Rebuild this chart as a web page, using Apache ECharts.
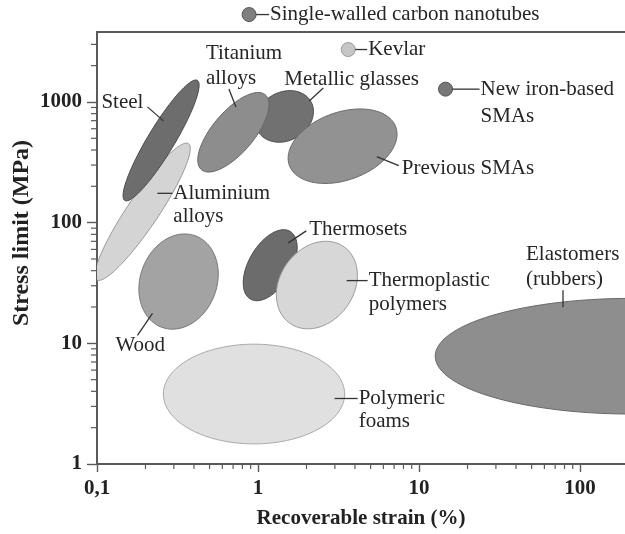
<!DOCTYPE html>
<html>
<head>
<meta charset="utf-8">
<script src="https://cdn.jsdelivr.net/npm/echarts@6/dist/echarts.min.js"></script>
<style>
  html, body { margin: 0; padding: 0; background: #fff; }
  #chart { width: 625px; height: 534px; }
</style>
</head>
<body>
<div id="chart"></div>
<script>
// material fields: centre and the end of one semi-axis (strain %, stress MPa),
// plus minor/major ratio of the ellipse
const materials = ['Aluminium alloys', 'Steel', 'Metallic glasses', 'Titanium alloys', 'Previous SMAs',
  'Wood', 'Thermosets', 'Thermoplastic polymers', 'Polymeric foams', 'Elastomers (rubbers)'];
const centreStrain = [0.192, 0.25, 1.46, 0.703, 3.35, 0.321, 1.19, 2.32, 0.944, 208];
const centreStress = [123, 480, 759, 561, 430, 32.5, 44.4, 30.4, 3.8, 7.82];
const axisEndStrain = [0.37, 0.42, 2.13, 1.11, 7.17, 0.408, 1.58, 3.42, 3.45, 12.6];
const axisEndStress = [451, 1510, 1007, 1146, 620, 77.8, 84.7, 63.0, 3.8, 7.82];
const axisRatio = [0.19, 0.19, 0.8, 0.42, 0.6, 0.786, 0.54, 0.787, 0.55, 0.295];

// single materials shown as dots
const pointNames = ['Single-walled carbon nanotubes', 'Kevlar', 'New iron-based SMAs'];
const pointStrain = [0.88, 3.63, 14.6];
const pointStress = [5300, 2720, 1277];

// annotation anchors (where each leader line touches its mark)
const labelText = ['Steel', 'Titanium\nalloys', 'Metallic glasses', 'Previous SMAs', 'Aluminium\nalloys',
  'Wood', 'Thermosets', 'Thermoplastic\npolymers', 'Elastomers\n(rubbers)', 'Polymeric\nfoams',
  'Single-walled carbon nanotubes', 'Kevlar', 'New iron-based\nSMAs'];
const labelStrain = [0.2585, 0.729, 2.08, 5.46, 0.237, 0.221, 1.54, 3.55, 78.3, 2.99, 0.88, 3.63, 14.6];
const labelStress = [697, 908, 1017, 352, 175, 17.7, 68, 33.1, 19.9, 3.49, 5300, 2720, 1277];

// axis ticks
const xTicks = [0.1, 1, 10, 100];
const yTicks = [1, 10, 100, 1000];
const xMinorTicks = [0.2, 0.3, 0.4, 0.5, 0.6, 0.7, 0.8, 0.9, 2, 3, 4, 5, 6, 7, 8, 9, 20, 30, 40, 50, 60, 70, 80, 90];
const yMinorTicks = [2, 3, 4, 5, 6, 7, 8, 9, 20, 30, 40, 50, 60, 70, 80, 90, 200, 300, 400, 500, 600, 700, 800, 900, 2000, 3000];

// styles
const fills = ['#d4d4d4', '#6d6d6d', '#717171', '#8d8d8d', '#929292', '#a3a3a3', '#6c6c6c', '#d7d7d7', '#e0e0e0', '#8e8e8e'];
const strokes = ['#999', '#4a4a4a', '#4d4d4d', '#666', '#6a6a6a', '#777', '#4a4a4a', '#999', '#aaa', '#6a6a6a'];
const pointFills = ['#7f7f7f', '#c6c6c6', '#777777'];
const pointStrokes = ['#555', '#999', '#555'];
// [tipDx, tipDy, tailDx, tailDy, textDx, textDy(first line centre), align, lineHeight]
const labelLayout = [
  [0, 0, -16, -14, -20, -18, 'right', 24],
  [0, 0, -7, -18, -30, -54, 'left', 25],
  [0, 0, 14, -13, -25, -22, 'left', 24],
  [0, 0, 22, 9, 25, 12, 'left', 24],
  [0, 0, 15, 0, 16, 0, 'left', 23],
  [0, 0, -15, 22, -37, 32, 'left', 24],
  [0, 0, 18, -12, 21, -13, 'left', 24],
  [0, 0, 21, 0, 22, 0, 'left', 24],
  [0, 0, 0, -17, -37, -53, 'left', 25],
  [0, 0, 23, 0, 24, 0, 'left', 23],
  [7, 0, 20, 0, 21, 0, 'left', 24],
  [7, 0, 19, 0, 20, 0, 'left', 24],
  [7, 0, 34, 0, 35, 0, 'left', 27]
];

const serif = '"Liberation Serif", "Times New Roman", serif';
const axisColor = '#5a5a5a';
const xMin = 0.1, xMax = 190, yMin = 1, yMax = 3800;

const chart = echarts.init(document.getElementById('chart'));

function renderEllipse(params, api) {
  const c = api.coord([api.value(0), api.value(1)]);
  const e = api.coord([api.value(2), api.value(3)]);
  const r = api.value(4);
  const ax = e[0] - c[0], ay = e[1] - c[1];
  const bx = -ay * r, by = ax * r;
  const pts = [];
  for (let i = 0; i < 120; i++) {
    const t = (i / 120) * Math.PI * 2;
    pts.push([c[0] + Math.cos(t) * ax + Math.sin(t) * bx, c[1] + Math.cos(t) * ay + Math.sin(t) * by]);
  }
  return {
    type: 'polygon',
    shape: { points: pts },
    style: { fill: fills[params.dataIndex], stroke: strokes[params.dataIndex], lineWidth: 1 }
  };
}

function renderPoint(params, api) {
  const p = api.coord([api.value(0), api.value(1)]);
  return {
    type: 'circle',
    shape: { cx: p[0], cy: p[1], r: 7 },
    style: { fill: pointFills[params.dataIndex], stroke: pointStrokes[params.dataIndex], lineWidth: 1 }
  };
}

function renderLabel(params, api) {
  const p = api.coord([api.value(0), api.value(1)]);
  const L = labelLayout[params.dataIndex];
  return {
    type: 'group',
    children: [
      {
        type: 'line',
        shape: { x1: p[0] + L[0], y1: p[1] + L[1], x2: p[0] + L[2], y2: p[1] + L[3] },
        style: { stroke: '#333', lineWidth: 1.3 }
      },
      {
        type: 'text',
        style: {
          text: labelText[params.dataIndex],
          x: p[0] + L[4],
          y: p[1] + L[5] - L[7] / 2,
          align: L[6],
          verticalAlign: 'top',
          lineHeight: L[7],
          font: '21px ' + serif,
          fill: '#262626'
        }
      }
    ]
  };
}

function renderXMinor(params, api) {
  const p = api.coord([api.value(0), yMin]);
  return { type: 'line', shape: { x1: p[0], y1: p[1], x2: p[0], y2: p[1] + 5 }, style: { stroke: axisColor, lineWidth: 1.2 } };
}

function renderYMinor(params, api) {
  const p = api.coord([xMin, api.value(1)]);
  return { type: 'line', shape: { x1: p[0], y1: p[1], x2: p[0] - 6, y2: p[1] }, style: { stroke: axisColor, lineWidth: 1.2 } };
}

const labelFont = { fontFamily: serif, fontWeight: 'bold', fontSize: 21, color: '#222' };

chart.setOption({
  animation: false,
  backgroundColor: '#fff',
  grid: { left: 97, right: 0, top: 32, bottom: 66 },
  xAxis: [
    {
      type: 'log', logBase: 10, min: xMin, max: xMax,
      axisLine: { lineStyle: { color: axisColor, width: 2 } },
      axisTick: { length: 8, lineStyle: { color: axisColor, width: 1.4 }, customValues: xTicks },
      axisLabel: Object.assign({ margin: 14, customValues: xTicks, formatter: v => (v < 1 ? '0,1' : String(v)) }, labelFont),
      splitLine: { show: false },
      minorTick: { show: false },
      name: 'Recoverable strain (%)', nameLocation: 'middle', nameGap: 44,
      nameTextStyle: { fontFamily: serif, fontWeight: 'bold', fontSize: 21, color: '#222' }
    },
    {
      type: 'log', logBase: 10, min: xMin, max: xMax, position: 'top',
      axisLine: { show: true, lineStyle: { color: axisColor, width: 2 } },
      axisTick: { show: false }, axisLabel: { show: false }, splitLine: { show: false }
    }
  ],
  yAxis: {
    type: 'log', logBase: 10, min: yMin, max: yMax,
    axisLine: { lineStyle: { color: axisColor, width: 2 } },
    axisTick: { length: 10, lineStyle: { color: axisColor, width: 1.4 }, customValues: yTicks },
    axisLabel: Object.assign({ margin: 15, customValues: yTicks, formatter: v => String(v) }, labelFont),
    splitLine: { show: false }
  },
  graphic: [{
    type: 'text', x: 22, y: 233, rotation: Math.PI / 2,
    style: { text: 'Stress limit (MPa)', font: 'bold 24px ' + serif, fill: '#222', align: 'center', verticalAlign: 'middle' }
  }],
  series: [
    {
      type: 'custom', name: 'materials', clip: true, renderItem: renderEllipse,
      data: materials.map((m, i) => [centreStrain[i], centreStress[i], axisEndStrain[i], axisEndStress[i], axisRatio[i]])
    },
    {
      type: 'custom', name: 'x minor ticks', clip: false, silent: true, renderItem: renderXMinor,
      data: xMinorTicks.map(v => [v, yMin])
    },
    {
      type: 'custom', name: 'y minor ticks', clip: false, silent: true, renderItem: renderYMinor,
      data: yMinorTicks.map(v => [xMin, v])
    },
    {
      type: 'custom', name: 'points', clip: false, renderItem: renderPoint,
      data: pointNames.map((n, i) => [pointStrain[i], pointStress[i]])
    },
    {
      type: 'custom', name: 'labels', clip: false, silent: true, renderItem: renderLabel,
      data: labelText.map((t, i) => [labelStrain[i], labelStress[i]])
    }
  ]
});
</script>
</body>
</html>
